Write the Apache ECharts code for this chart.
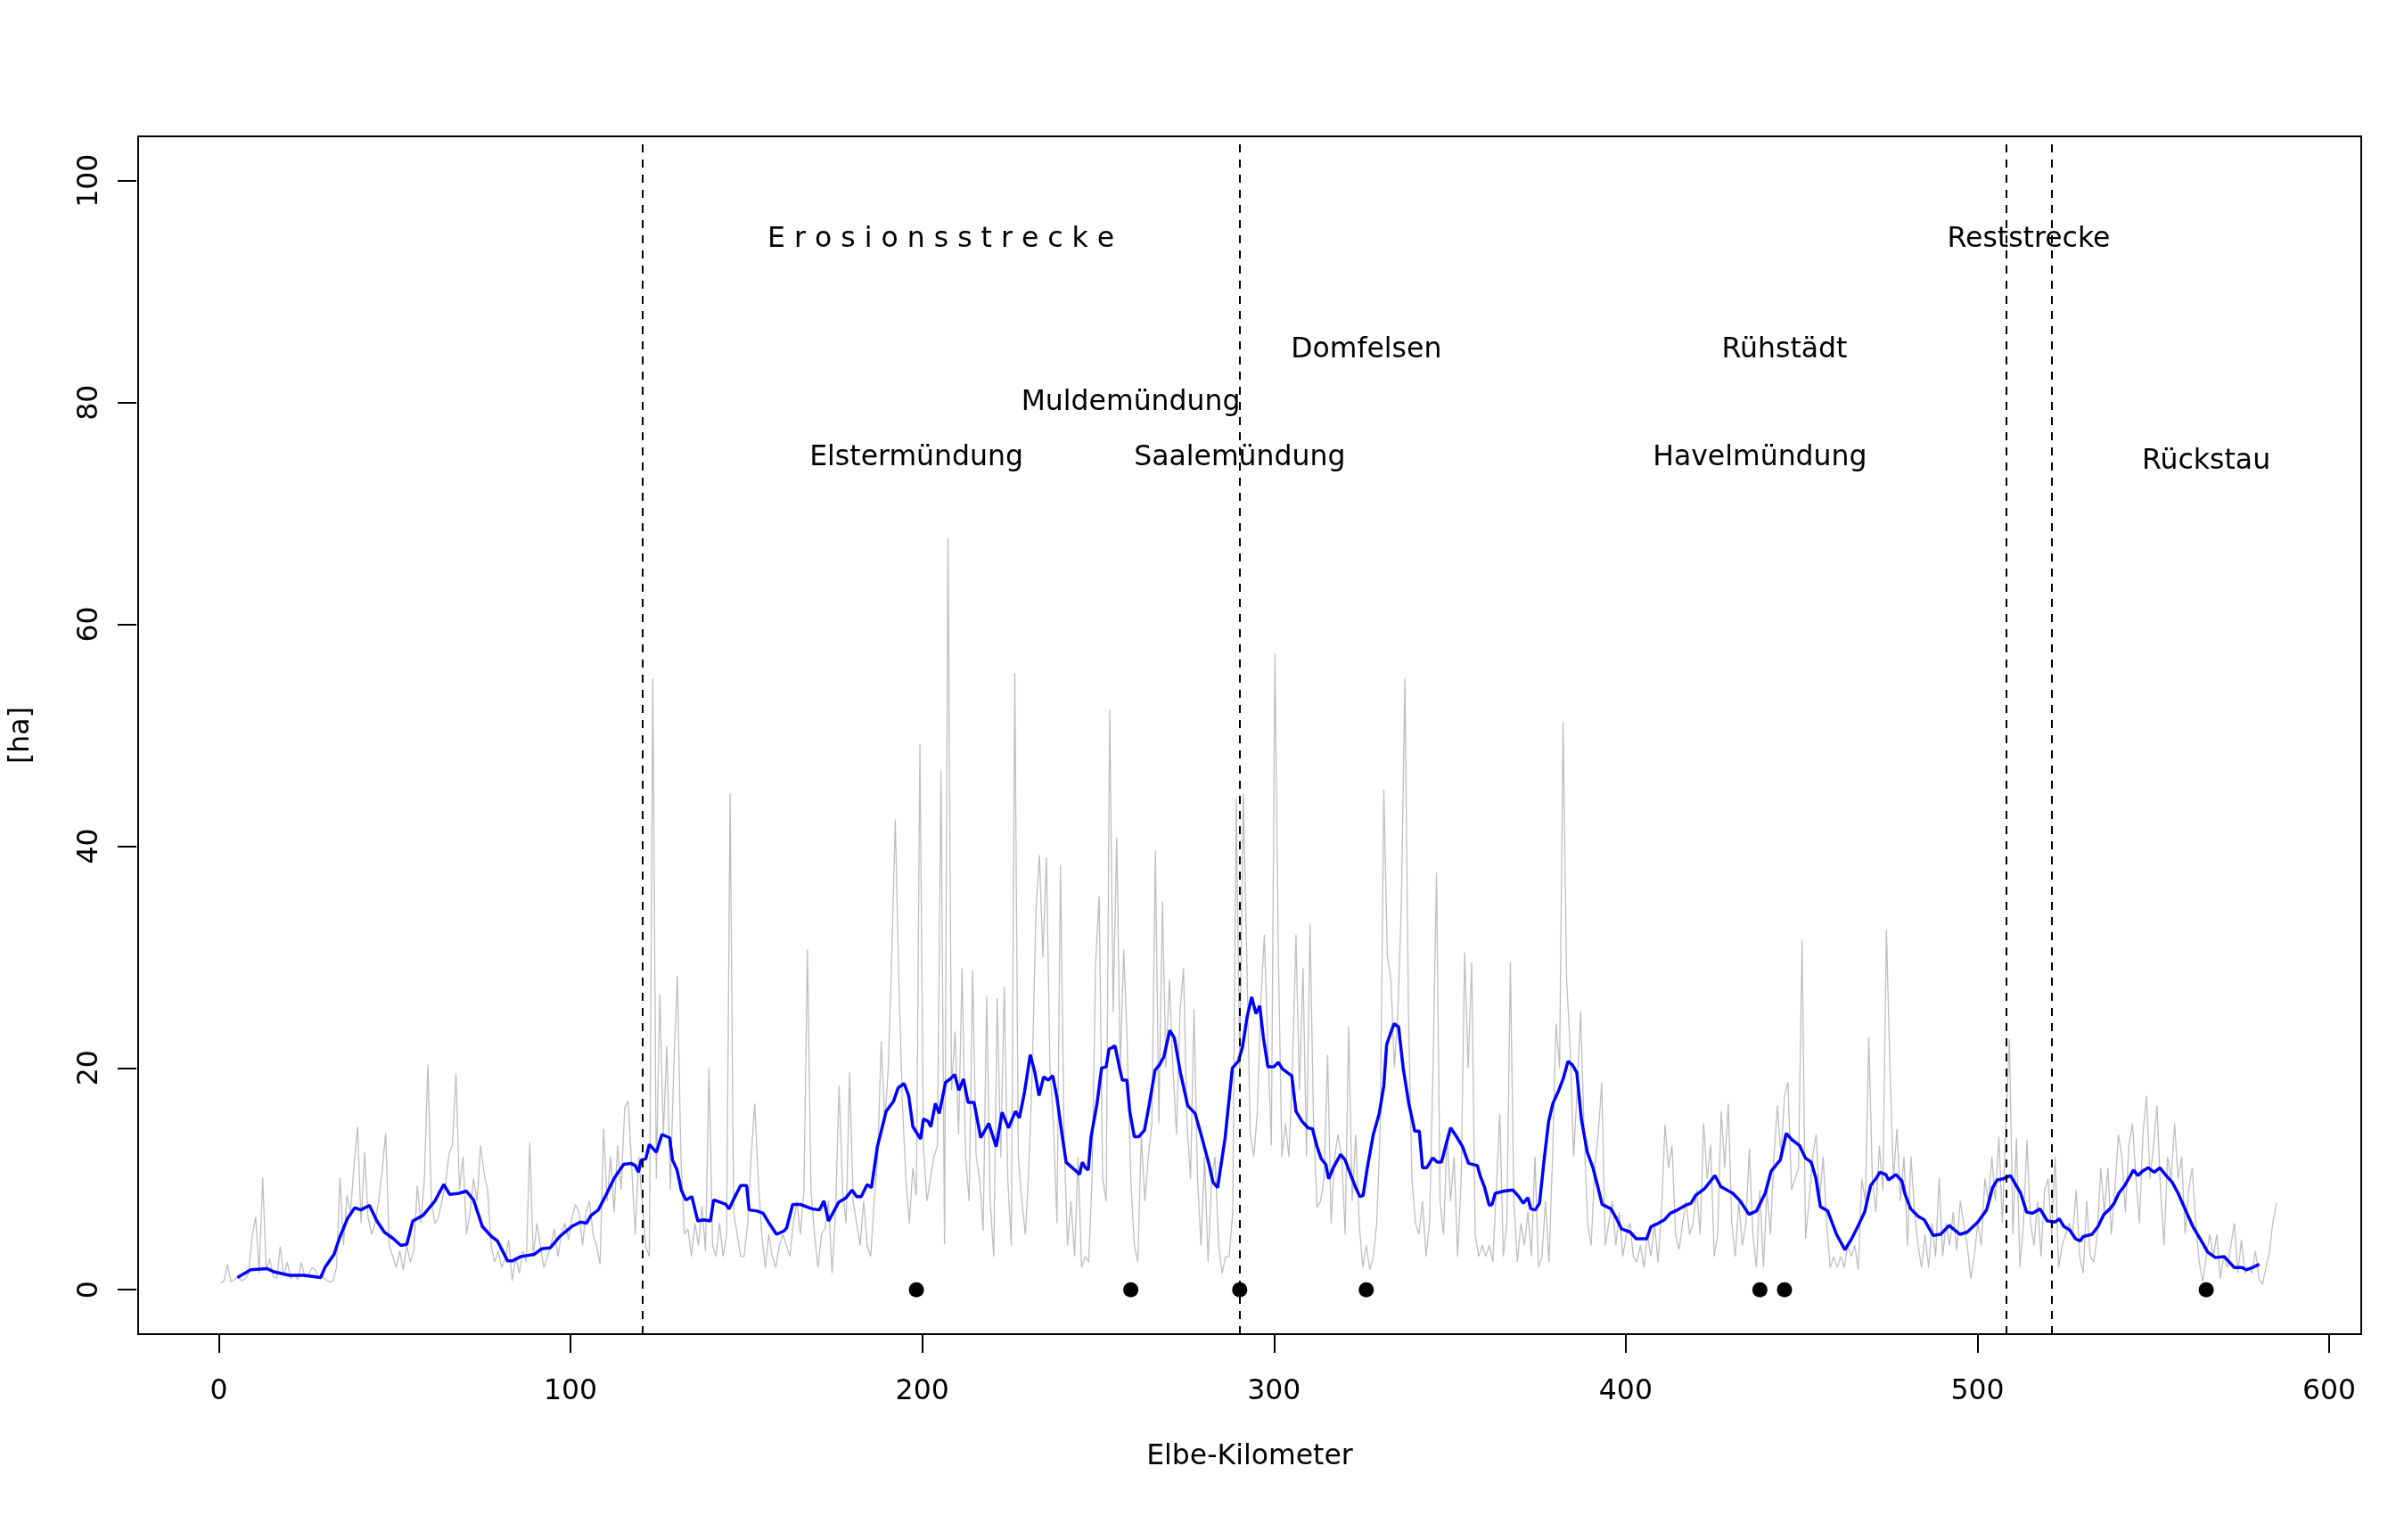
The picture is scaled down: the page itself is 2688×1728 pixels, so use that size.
<!DOCTYPE html>
<html><head><meta charset="utf-8">
<script src="https://cdn.jsdelivr.net/npm/echarts@6/dist/echarts.min.js"></script>
<style>html,body{margin:0;padding:0;background:#fff}#c{width:2688px;height:1728px}</style>
</head><body><div id="c"></div>
<script>
// raw values per Elbe-Kilometer (km 0..585)
const grayVals = [
0.6,0.8,2.3,0.7,0.9,1.2,0.8,1.0,1.5,4.8,
6.6,1.5,10.1,1.8,2.8,1.2,1.0,3.9,1.2,2.5,
1.0,1.4,0.9,2.5,1.1,1.3,2.0,1.8,1.0,1.2,
0.9,0.7,0.8,2.0,10.1,4.0,8.5,7.0,11.3,14.7,
6.0,12.4,6.5,5.0,6.0,8.0,10.8,14.1,4.0,3.0,
2.0,3.5,1.8,4.0,2.5,3.5,9.4,6.0,9.9,20.3,
8.0,6.0,6.5,8.0,9.5,12.2,13.1,19.5,9.0,12.0,
5.0,7.0,10.0,8.0,13.0,10.5,9.0,4.0,2.5,3.5,
2.0,2.8,4.5,0.8,3.0,1.5,3.5,2.5,13.3,3.0,
6.0,4.0,2.0,3.0,4.0,5.5,3.0,5.0,6.0,4.5,
6.5,7.7,7.0,4.0,7.0,8.0,5.0,4.0,2.3,14.5,
8.0,12.0,7.0,13.0,9.0,16.4,17.0,11.0,5.0,12.0,
8.0,3.9,3.0,55.1,10.0,26.7,14.0,22.0,9.0,20.5,
28.3,12.0,5.0,5.5,3.0,6.0,4.0,7.5,3.5,20.0,
4.0,3.0,6.0,3.0,5.0,44.8,7.0,5.0,3.0,3.0,
6.0,12.0,16.8,10.0,5.0,2.0,5.0,3.0,2.0,4.0,
5.0,4.0,3.0,6.0,8.0,5.0,9.0,30.7,9.0,5.0,
2.0,5.0,5.5,8.0,1.5,7.0,18.4,9.0,6.0,19.6,
8.0,6.0,4.0,8.0,4.0,3.0,8.0,12.0,22.4,15.0,
20.0,30.2,42.4,27.9,17.0,10.0,6.0,11.0,8.5,49.2,
13.0,8.0,10.0,12.0,13.0,46.8,4.1,67.8,18.0,23.3,
14.0,29.0,12.0,8.0,28.8,12.0,10.0,5.3,26.5,8.0,
3.0,26.3,12.0,27.3,10.0,4.0,55.6,12.0,8.0,5.0,
11.0,20.0,34.0,39.2,30.0,39.0,20.0,15.0,6.0,38.3,
14.0,4.0,8.0,3.0,12.0,2.0,3.0,2.5,10.0,29.5,
35.5,10.0,8.0,52.3,25.0,40.8,20.0,30.7,22.0,10.0,
4.0,2.5,14.0,8.0,12.0,15.0,39.6,15.0,35.0,20.0,
28.0,20.0,14.0,25.0,29.0,15.0,10.0,25.3,10.0,4.0,
12.0,2.5,10.0,12.0,4.0,1.5,3.0,3.0,7.0,44.3,
20.0,44.7,30.0,14.0,12.0,16.0,26.0,32.0,22.0,13.0,
57.4,30.0,12.0,15.0,12.0,20.0,32.0,18.0,29.0,12.0,
33.0,15.0,7.4,8.0,10.0,21.2,6.0,12.0,14.0,12.0,
5.0,23.7,8.0,14.0,6.0,2.0,4.0,1.8,3.0,6.0,
15.0,45.1,30.0,28.0,20.0,25.0,35.0,55.1,25.0,10.0,
6.0,5.0,8.0,3.0,6.0,20.0,37.6,8.0,5.0,14.0,
8.0,12.0,3.0,10.0,30.4,20.0,29.5,5.0,3.0,4.0,
3.0,4.0,2.5,9.0,15.9,3.0,6.0,29.5,8.0,2.5,
6.0,4.0,7.0,3.0,12.0,2.0,3.0,8.0,2.5,12.0,
24.0,20.0,51.2,28.0,22.0,12.0,18.0,25.1,14.0,6.0,
4.0,11.0,14.0,18.7,4.0,6.0,8.0,4.0,7.0,3.0,
5.0,6.0,3.0,2.5,4.0,2.0,5.0,3.0,6.0,2.5,
7.0,14.9,11.0,13.0,5.0,3.6,6.0,8.0,5.0,6.0,
9.0,5.0,15.0,10.0,13.1,3.0,5.0,16.1,11.0,16.8,
6.0,3.0,8.0,4.0,6.0,12.7,5.0,2.0,9.0,2.0,
9.0,5.0,12.0,16.6,12.0,17.5,18.7,9.0,10.0,11.0,
31.5,4.6,8.0,12.0,14.0,8.0,12.0,6.0,2.0,3.0,
2.0,3.0,2.0,4.0,3.0,4.0,1.8,10.0,8.0,22.8,
10.0,7.0,13.0,9.0,32.5,20.0,10.0,14.5,8.0,12.0,
4.0,12.0,7.0,4.0,2.0,5.0,2.0,6.0,3.0,10.1,
3.0,6.0,4.0,7.0,3.5,8.0,6.0,4.0,1.0,3.0,
6.0,4.0,10.0,8.0,12.0,8.0,13.8,6.0,15.0,22.6,
5.0,13.7,2.0,6.0,13.5,6.0,4.0,8.0,3.0,9.0,
10.0,5.0,12.0,2.0,4.0,5.0,6.0,5.0,9.0,3.0,
1.5,8.0,3.0,2.5,5.0,11.0,7.0,11.0,5.0,9.0,
14.0,12.0,7.0,13.0,15.0,10.0,6.0,14.0,17.5,10.0,
13.0,16.6,9.0,4.0,12.0,10.0,15.0,10.0,12.0,5.0,
9.0,11.0,6.0,2.5,0.7,3.0,5.0,3.0,5.0,1.0,
3.0,2.0,4.0,6.0,1.5,4.5,1.5,2.0,1.5,3.5,
1.0,0.5,2.0,3.5,6.2,7.8
];

// smoothed (running mean) curve
const blueKm = [
4.8,8.6,13.3,15.4,19.6,23.8,28.5,29.7,32.3,34,36.1,38.2,39.9,42.4,44.5,46.6,49.2,51.3,53,54.7,
57.6,61,63.5,65.2,67.8,69.9,72,74.5,77.1,78.8,81.7,83,85.5,89.3,91.4,93.9,96.5,99.9,102.4,104.1,
105.4,107.5,109.6,112.1,114.7,116.8,118,118.9,119.7,121,122,124,125.6,127.8,128.6,129.9,131.1,132.4,134.1,135.8,
137.5,139.4,140.3,142.1,143.8,144.7,145.9,148,149.7,150.4,152.7,154.4,156.1,158.2,160.3,161.1,162.8,164.9,166.6,168.3,
170.4,171.7,173,174.2,175.9,178,179.7,181,182.3,184,185.2,186.9,189.4,191.5,192.8,194.5,195.8,197,199.2,200,
201.3,202.1,203.4,204.5,206.3,207.6,208.9,210.1,211.4,212.7,214.4,216.3,218.6,220.7,222.4,224.2,226.2,227.3,228.7,230.4,
231.7,232.9,234.2,235.5,236.8,238,239.3,240.6,243.1,244.4,245.2,246.1,246.9,247.7,249.4,250.7,252,252.8,254.5,255.8,
256.6,257.9,258.7,260,261.3,262.9,264.2,265.9,267.2,268.4,270.1,271.4,273.1,275.2,277.3,279,281.1,282.4,283.7,285.8,
287.9,289.6,290.8,292.1,293.4,294.6,295.7,296.7,298,299.7,301,302.2,304.8,306,307.7,309.4,310.7,312,313.2,314.5,
315.3,316.6,318.7,320,321.3,323,324.2,325.1,326.3,328,329.7,331,331.8,333.1,333.9,335.2,336.5,338.1,339.8,341.1,
342,343.2,344.9,346.2,347.4,348.7,350,351.7,353.4,355.1,357.6,358.4,359.7,361,361.8,362.7,365.2,367.7,369.4,370.7,
372,372.8,374.1,375.3,376.6,377.9,379.1,380.8,382.1,383.4,384.6,385.9,387.2,388.9,390.5,391.8,393.1,395.6,396.9,398.6,
401.1,402.8,405.8,407,409.1,410.8,412.5,414.6,416.7,418.4,419.7,422.2,425.2,426.9,428.6,430.3,432.4,434.9,437,439.5,
441.2,443.8,445.5,447.2,449.3,450.9,452.6,453.9,455.2,457.3,459.8,462.2,464.1,465.7,467.8,469.5,471.2,472.1,473.8,474.6,
476.7,478.4,479.3,480.9,483.1,484.8,487.3,489.4,491.9,494.9,497,500,502.5,504.2,505.5,507.1,509.3,512.2,513.9,515.6,
517.7,519.8,521.9,523.2,524.5,526.1,527.8,529.1,530,532.5,534.2,535.9,537.6,538.8,540.1,541.8,544.3,545.6,546.9,548.5,
550.2,551.8,553.6,555.3,557,559.5,561.2,563.8,565.4,567.6,570.1,573,575.2,576.4,578.1,580.1
];
const blueVal = [
1.1,1.8,1.9,1.6,1.3,1.3,1.1,2.0,3.2,4.8,6.4,7.4,7.2,7.6,6.2,5.2,4.6,4.0,4.1,6.2,
6.7,8.0,9.5,8.6,8.7,8.9,8.1,5.7,4.8,4.4,2.6,2.6,3.0,3.2,3.7,3.8,4.8,5.7,6.1,6.0,
6.7,7.2,8.5,10.1,11.3,11.4,11.2,10.6,11.7,11.8,13.1,12.4,14.0,13.7,11.7,10.8,9.0,8.1,8.4,6.2,
6.3,6.2,8.1,7.9,7.7,7.3,8.1,9.4,9.4,7.2,7.1,6.9,6.0,5.0,5.3,5.6,7.7,7.7,7.5,7.3,
7.2,8.0,6.2,6.9,7.9,8.3,9.0,8.4,8.4,9.5,9.2,12.9,16.1,17.0,18.2,18.6,17.5,14.7,13.6,15.4,
15.2,14.7,16.8,15.9,18.7,19.0,19.4,18.0,19.0,16.9,16.9,13.7,15.0,12.9,16.0,14.6,16.1,15.5,17.7,21.2,
19.6,17.5,19.2,18.9,19.3,17.3,14.3,11.5,10.8,10.4,11.5,11.0,10.8,13.8,16.8,20.0,20.1,21.7,22.0,20.0,
18.9,18.9,16.1,13.8,13.8,14.4,16.6,19.8,20.3,21.0,23.4,22.7,19.6,16.6,15.9,14.0,11.5,9.7,9.2,13.6,
20.0,20.6,21.9,24.6,26.4,24.9,25.6,22.8,20.1,20.1,20.5,19.9,19.3,16.1,15.2,14.6,14.5,12.9,11.8,11.3,
10.0,11.0,12.2,11.7,10.6,9.2,8.4,8.5,11.0,14.0,15.9,18.4,22.1,23.3,24.0,23.7,20.0,16.8,14.3,14.3,
11.0,11.0,11.9,11.5,11.5,13.1,14.6,13.8,12.9,11.4,11.2,10.3,9.2,7.6,7.7,8.7,8.9,9.0,8.4,7.8,
8.3,7.3,7.2,7.8,11.7,15.2,16.8,18.0,19.1,20.6,20.3,19.6,15.4,12.4,11.0,9.4,7.7,7.3,6.6,5.5,
5.2,4.6,4.6,5.7,6.0,6.3,6.9,7.2,7.6,7.8,8.5,9.1,10.3,9.3,9.0,8.7,8.0,6.8,7.1,8.7,
10.7,11.7,14.1,13.5,13.0,11.9,11.5,10.1,7.5,7.1,5.0,3.6,4.6,5.6,7.0,9.4,10.1,10.6,10.4,9.9,
10.4,9.8,8.6,7.3,6.6,6.3,4.9,5.0,5.8,5.0,5.2,6.1,7.2,9.2,9.9,10.0,10.3,8.7,7.0,6.9,
7.3,6.2,6.1,6.4,5.7,5.4,4.6,4.4,4.8,5.0,5.7,6.8,7.3,7.8,8.7,9.4,10.8,10.3,10.7,11.0,
10.6,11.0,10.3,9.7,8.7,6.9,5.7,4.3,3.4,2.9,3.0,2.0,2.0,1.8,2.0,2.3
];

const dotKm = [198, 259, 290, 326, 438, 445, 565];
const dividerKm = [120, 290, 508, 521];
const labelText = ["E r o s i o n s s t r e c k e", "Reststrecke", "Domfelsen", "Rühstädt",
  "Muldemündung", "Elstermündung", "Saalemündung", "Havelmündung", "Rückstau"];
const labelKm = [205, 514.5, 326, 445, 259, 198, 290, 438, 565];
const labelY = [94.7, 94.7, 84.7, 84.7, 80, 75, 75, 75, 74.7];
const xTickMin = 0, xTickMax = 600, xTickStep = 100;
const yTickMin = 0, yTickMax = 100, yTickStep = 20;

// layout
const X0 = -23.43, X1 = 609.1, Y0 = -4, Y1 = 104;
const GL = 153, GT = 153, GW = 2496, GH = 1344;
const px = v => GL + (v - X0) / (X1 - X0) * GW;
const py = v => GT + (Y1 - v) / (Y1 - Y0) * GH;
const FONT = 'DejaVu Sans';
const FS = 31.5;

const chart = echarts.init(document.getElementById('c'), null, {renderer: 'canvas'});
const option = {
  animation: false,
  backgroundColor: '#fff',
  grid: [
    {left: GL, top: GT, width: GW, height: GH, show: true, borderColor: '#000', borderWidth: 2, backgroundColor: 'transparent'},
    {left: px(xTickMin), top: py(yTickMax), width: px(xTickMax) - px(xTickMin), height: py(yTickMin) - py(yTickMax), show: false}
  ],
  xAxis: [
    {gridIndex: 0, type: 'value', min: X0, max: X1, position: 'bottom',
     axisLine: {show: false, onZero: false}, axisTick: {show: false},
     axisLabel: {show: false}, splitLine: {show: false},
     name: 'Elbe-Kilometer', nameLocation: 'middle', nameGap: 122,
     nameTextStyle: {fontFamily: FONT, fontSize: FS, color: '#000'}},
    {gridIndex: 1, type: 'value', min: xTickMin, max: xTickMax, interval: xTickStep, position: 'bottom',
     offset: (GT + GH) - py(yTickMin),
     axisLine: {show: true, onZero: false, lineStyle: {color: 'rgba(0,0,0,0)', width: 0}},
     splitLine: {show: false},
     axisTick: {show: true, inside: false, length: 21, lineStyle: {color: '#000', width: 2}},
     axisLabel: {show: true, margin: 49, fontFamily: FONT, fontSize: FS, color: '#000'}}
  ],
  yAxis: [
    {gridIndex: 0, type: 'value', min: Y0, max: Y1, position: 'left',
     axisLine: {show: false, onZero: false}, axisTick: {show: false},
     axisLabel: {show: false}, splitLine: {show: false},
     name: '[ha]', nameLocation: 'middle', nameGap: 115,
     nameTextStyle: {fontFamily: FONT, fontSize: FS, color: '#000'}},
    {gridIndex: 1, type: 'value', min: yTickMin, max: yTickMax, interval: yTickStep, position: 'left',
     offset: px(xTickMin) - GL,
     axisLine: {show: true, onZero: false, lineStyle: {color: 'rgba(0,0,0,0)', width: 0}},
     splitLine: {show: false},
     axisTick: {show: true, inside: false, length: 21, lineStyle: {color: '#000', width: 2}},
     axisLabel: {show: true, rotate: 90, margin: 36, fontFamily: FONT, fontSize: FS, color: '#000'}}
  ],
  series: [
    {type: 'line', xAxisIndex: 0, yAxisIndex: 0, showSymbol: false, symbol: 'none', z: 2,
     lineStyle: {color: '#BEBEBE', width: 1.3}, data: grayVals.map((v, i) => [i, v])},
    {type: 'line', xAxisIndex: 0, yAxisIndex: 0, showSymbol: false, symbol: 'none', z: 3,
     lineStyle: {color: '#0000FF', width: 3.5}, data: blueKm.map((k, i) => [k, blueVal[i]])},
    {type: 'line', xAxisIndex: 0, yAxisIndex: 0, data: [], z: 4,
     markLine: {silent: true, symbol: 'none', label: {show: false},
       lineStyle: {color: '#000', width: 2, type: [9, 8], opacity: 1},
       data: dividerKm.map(k => ({xAxis: k}))}},
    {type: 'scatter', xAxisIndex: 0, yAxisIndex: 0, symbol: 'circle', symbolSize: 17, z: 5,
     itemStyle: {color: '#000', opacity: 1}, data: dotKm.map(k => [k, 0])},
    {type: 'scatter', xAxisIndex: 0, yAxisIndex: 0, symbolSize: 1, z: 6,
     itemStyle: {color: 'rgba(255,255,255,0)'},
     label: {show: true, position: 'inside', formatter: p => p.name, opacity: 1,
       fontFamily: FONT, fontSize: FS, color: '#000', textBorderWidth: 0},
     data: labelText.map((t, i) => ({name: t, value: [labelKm[i], labelY[i]]}))}
  ]
};
chart.setOption(option);
</script>
</body></html>
